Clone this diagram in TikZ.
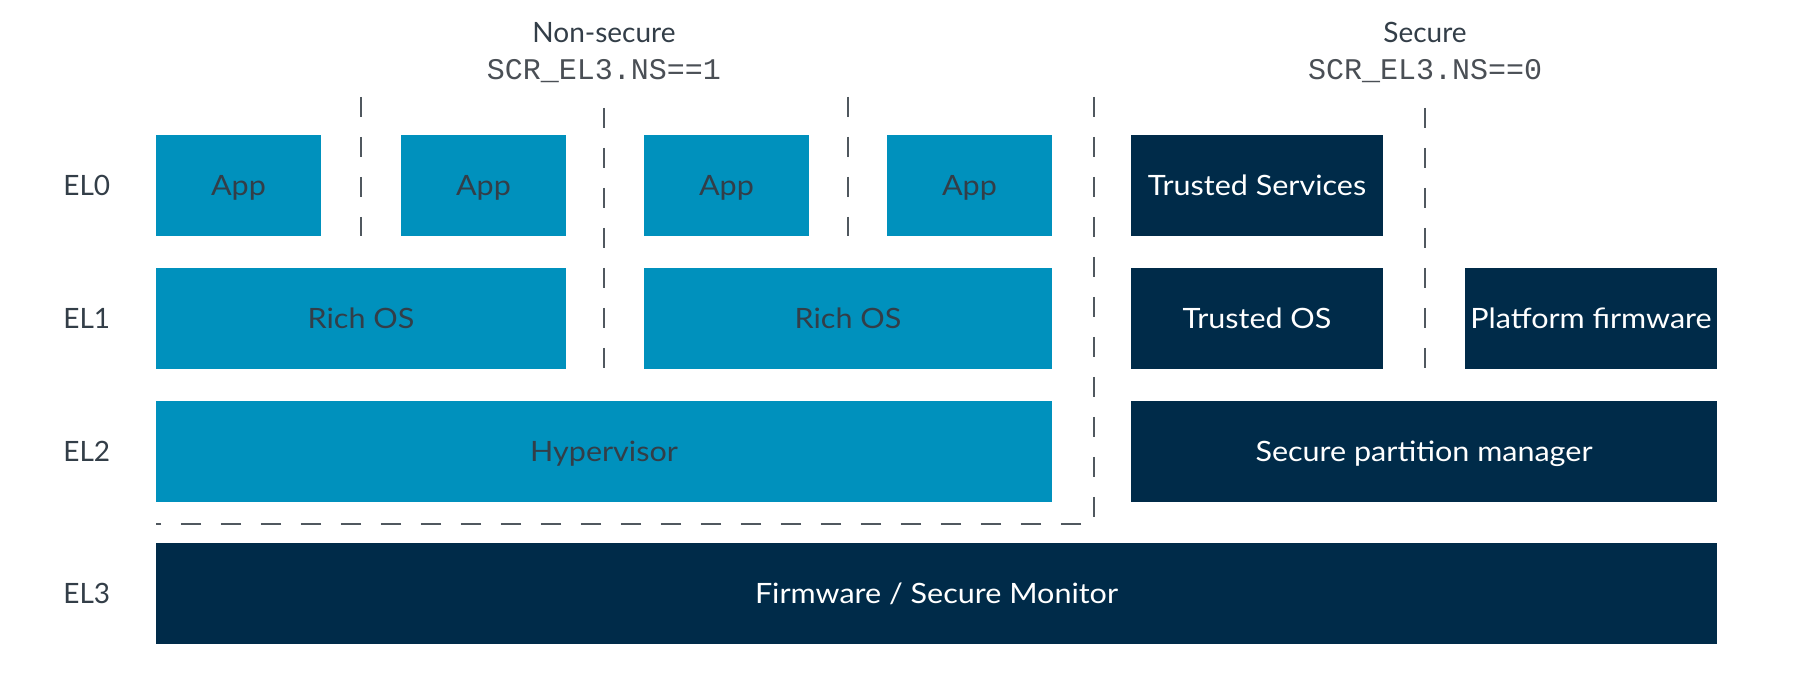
\documentclass[tikz,border=0pt]{standalone}
\usepackage{fontspec}
\setmainfont{Lato}
\setmonofont{Liberation Mono}
\newfontfamily\boxfont[FakeStretch=1.09]{Lato}
\definecolor{armblue}{HTML}{0091BD}
\definecolor{armnavy}{HTML}{002B49}
\definecolor{armtext}{HTML}{333E48}
\definecolor{dashgray}{HTML}{50585F}
\definecolor{monogray}{HTML}{4A4F55}
\begin{document}
\begin{tikzpicture}[x=0.5pt,y=-0.5pt,
  box/.style={rectangle, inner sep=0pt, minimum height=50.5pt, text height=10pt, text depth=0pt, font=\boxfont\fontsize{14}{16}\selectfont},
  nsbox/.style={box, fill=armblue, text=armtext},
  secbox/.style={box, fill=armnavy, text=white},
  lvl/.style={inner sep=0pt, text height=10pt, text depth=0pt, text=armtext, font=\fontsize{14}{16}\selectfont},
  worldtitle/.style={inner sep=0pt, text=armtext, font=\fontsize{14}{16}\selectfont},
  regtitle/.style={inner sep=0pt, text=monogray, font=\ttfamily\fontsize{15}{17}\selectfont},
  sep/.style={draw=dashgray, line width=1pt, dash pattern=on 10pt off 10pt}]
\fill[white] (0,0) rectangle (1819,699);
\useasboundingbox (0,0) rectangle (1819,699);
% titles
\node[worldtitle, anchor=base] (nstitle) at (604,43) {Non-secure};
\node[regtitle, anchor=base] (nsreg) at (604,80) {SCR\_EL3.NS==1};
\node[worldtitle, anchor=base] (stitle) at (1425,43) {Secure};
\node[regtitle, anchor=base] (sreg) at (1425,80) {SCR\_EL3.NS==0};
% level labels
\node[lvl, anchor=west] (el0) at (63,185.5) {EL0};
\node[lvl, anchor=west] (el1) at (63,318.5) {EL1};
\node[lvl, anchor=west] (el2) at (63,451.5) {EL2};
\node[lvl, anchor=west] (el3) at (63,593.5) {EL3};
% non-secure boxes
\node[nsbox, minimum width=82.5pt] (app1) at (238.5,185.5) {App};
\node[nsbox, minimum width=82.5pt] (app2) at (483.5,185.5) {App};
\node[nsbox, minimum width=82.5pt] (app3) at (726.5,185.5) {App};
\node[nsbox, minimum width=82.5pt] (app4) at (969.5,185.5) {App};
\node[nsbox, minimum width=205pt] (rich1) at (361,318.5) {Rich OS};
\node[nsbox, minimum width=204pt] (rich2) at (848,318.5) {Rich OS};
\node[nsbox, minimum width=448pt] (hyp) at (604,451.5) {Hypervisor};
% secure boxes
\node[secbox, minimum width=126pt] (ts) at (1257,185.5) {Trusted Services};
\node[secbox, minimum width=126pt] (tos) at (1257,318.5) {Trusted OS};
\node[secbox, minimum width=126pt] (pf) at (1591,318.5) {Platform firmware};
\node[secbox, minimum width=293pt] (spm) at (1424,451.5) {Secure partition manager};
\node[secbox, minimum width=780.5pt] (mon) at (936.5,593.5) {Firmware / Secure Monitor};
% separators
\coordinate (d1t) at (361,97);
\coordinate (d2t) at (604,108);
\coordinate (d3t) at (848,97);
\coordinate (d4t) at (1094,97);
\coordinate (d4c) at (1094,524);
\coordinate (d5t) at (1425,108);
\draw[sep] (d1t) -- (d1t |- app1.south);
\draw[sep] (d2t) -- (d2t |- rich1.south);
\draw[sep] (d3t) -- (d3t |- app3.south);
\draw[sep] (d4t) -- (d4c) -- (d4c -| hyp.west);
\draw[sep] (d5t) -- (d5t |- tos.south);
\end{tikzpicture}
\end{document}
